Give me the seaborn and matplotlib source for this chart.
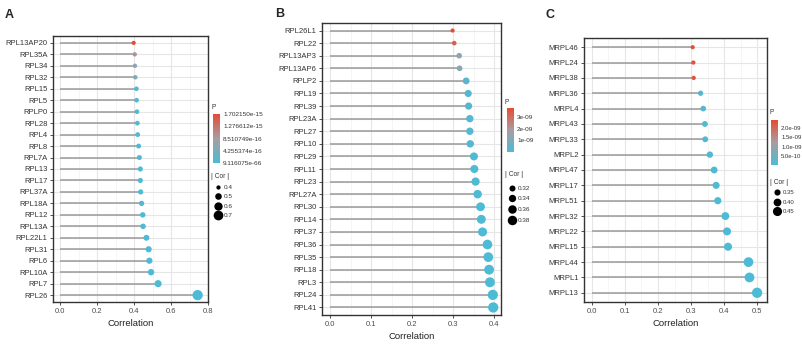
import numpy as np
import pandas as pd
import matplotlib
matplotlib.use("Agg")
import matplotlib.pyplot as plt
import seaborn as sns
from matplotlib.colors import LinearSegmentedColormap, Normalize
from matplotlib.cm import ScalarMappable

sns.set_style("white")
plt.rcParams["font.family"] = ["Liberation Sans", "DejaVu Sans"]

# ---- panel A: RPL genes
genes_a = ["RPL13AP20", "RPL35A", "RPL34", "RPL32", "RPL15", "RPL5", "RPLP0", "RPL28",
           "RPL4", "RPL8", "RPL7A", "RPL13", "RPL17", "RPL37A", "RPL18A", "RPL12",
           "RPL13A", "RPL22L1", "RPL31", "RPL6", "RPL10A", "RPL7", "RPL26"]
cor_a = [0.398, 0.404, 0.405, 0.407, 0.413, 0.414, 0.416, 0.418, 0.420, 0.425, 0.429,
         0.434, 0.434, 0.436, 0.441, 0.447, 0.449, 0.467, 0.479, 0.483, 0.492, 0.530, 0.744]
p_a = [1.702150e-15, 9.5e-16, 6.0e-16, 5.0e-16, 6e-17, 5e-17, 4e-17, 3e-17, 2e-17, 1e-17,
       5e-18, 2e-18, 2e-18, 1e-18, 5e-19, 1e-19, 1e-19, 1e-20, 1e-21, 1e-21, 1e-22, 1e-25,
       9.116075e-66]
pticks_a = [9.116075e-66, 4.255374e-16, 8.510749e-16, 1.276612e-15, 1.702150e-15]
plabels_a = ["9.116075e-66", "4.255374e-16", "8.510749e-16", "1.276612e-15", "1.702150e-15"]
size_breaks_a = [0.4, 0.5, 0.6, 0.7]
size_labels_a = ["0.4", "0.5", "0.6", "0.7"]

# ---- panel B
genes_b = ["RPL26L1", "RPL22", "RPL13AP3", "RPL13AP6", "RPLP2", "RPL19", "RPL39", "RPL23A",
           "RPL27", "RPL10", "RPL29", "RPL11", "RPL23", "RPL27A", "RPL30", "RPL14", "RPL37",
           "RPL36", "RPL35", "RPL18", "RPL3", "RPL24", "RPL41"]
cor_b = [0.299, 0.303, 0.315, 0.316, 0.332, 0.337, 0.338, 0.341, 0.341, 0.342, 0.351, 0.352,
         0.355, 0.360, 0.367, 0.369, 0.372, 0.384, 0.386, 0.388, 0.390, 0.397, 0.398]
p_b = [3.8e-9, 3.3e-9, 1.3e-9, 1.2e-9, 3e-10, 2e-10, 2e-10, 1.5e-10, 1.5e-10, 1.4e-10,
       6e-11, 5e-11, 4e-11, 3e-11, 1e-11, 1e-11, 8e-12, 1e-12, 1e-12, 8e-13, 6e-13, 2e-13, 1e-13]
pticks_b = [1e-9, 2e-9, 3e-9]
plabels_b = ["1e-09", "2e-09", "3e-09"]
size_breaks_b = [0.32, 0.34, 0.36, 0.38]
size_labels_b = ["0.32", "0.34", "0.36", "0.38"]

# ---- panel C: MRPL genes
genes_c = ["MRPL46", "MRPL24", "MRPL38", "MRPL36", "MRPL4", "MRPL43", "MRPL33", "MRPL2",
           "MRPL47", "MRPL17", "MRPL51", "MRPL32", "MRPL22", "MRPL15", "MRPL44", "MRPL1", "MRPL13"]
cor_c = [0.305, 0.307, 0.308, 0.329, 0.337, 0.342, 0.343, 0.357, 0.370, 0.376, 0.381,
         0.404, 0.409, 0.412, 0.474, 0.477, 0.500]
p_c = [2.45e-9, 2.35e-9, 2.3e-9, 2e-10, 1.2e-10, 9e-11, 9e-11, 3e-11, 1e-11, 8e-12, 5e-12,
       5e-13, 4e-13, 3e-13, 1e-15, 1e-15, 1e-16]
pticks_c = [5e-10, 1e-9, 1.5e-9, 2e-9]
plabels_c = ["5.0e-10", "1.0e-09", "1.5e-09", "2.0e-09"]
size_breaks_c = [0.35, 0.40, 0.45]
size_labels_c = ["0.35", "0.40", "0.45"]

cmap = LinearSegmentedColormap.from_list("p", ["#4DBBD5", "#A99DA1", "#E64B35"])
SIZES = (9, 55)
W, H = 803, 347


def fx(px):
    return px / W


def fy(py):
    return 1 - py / H


def panel(fig, box, genes, cor, p, xlim, major, minor, letter, letter_xy,
          cbar_box, p_xy, pticks, plabels, cor_xy, dot_ys, dot_x, breaks, blabels,
          leg_fs=4.6):
    left, right, top, bottom = box
    ax = fig.add_axes([fx(left), fy(bottom), fx(right - left), (bottom - top) / H])
    df = pd.DataFrame({"gene": genes, "cor": cor, "p": p})
    n = len(genes)
    pnorm = (min(p), max(p))
    snorm = (min(cor), max(cor))

    ax.set_axisbelow(True)
    for xv in minor:
        ax.axvline(xv, color="#F2F2F2", lw=0.5, zorder=0)
    for xv in major:
        ax.axvline(xv, color="#E6E6E6", lw=0.8, zorder=0)
    sns.scatterplot(data=df, x="cor", y="gene", hue="p", size="cor", palette=cmap,
                    hue_norm=pnorm, sizes=SIZES, size_norm=snorm, linewidth=0,
                    legend=False, ax=ax, zorder=3)
    for i in range(n):
        ax.axhline(i, color="#E6E6E6", lw=0.8, zorder=0)
    ax.hlines(df["gene"], 0, df["cor"], color="#9A9A9A", lw=1.1, zorder=2)

    ax.set_xlim(*xlim)
    ax.set_ylim(n - 0.4, -0.6)
    ax.set_xticks(major)
    ax.set_xticklabels([f"{v:.1f}" for v in major], fontsize=5.5, color="#4D4D4D")
    ax.tick_params(axis="y", labelsize=5.5, labelcolor="#333333")
    ax.tick_params(axis="both", length=2, width=0.6, color="#333333", pad=2, left=True, bottom=True)
    ax.set_ylabel("")
    ax.set_xlabel("Correlation", fontsize=6.8, color="#222222", labelpad=3)
    for s in ax.spines.values():
        s.set_color("#333333")
        s.set_linewidth(1.0)

    fig.text(fx(letter_xy[0]), fy(letter_xy[1]), letter, fontsize=9, fontweight="bold",
             ha="left", va="center")

    # colour bar legend for P
    cx0, cx1, cy0, cy1 = cbar_box
    cax = fig.add_axes([fx(cx0), fy(cy1), fx(cx1 - cx0), (cy1 - cy0) / H])
    sm = ScalarMappable(norm=Normalize(*pnorm), cmap=cmap)
    cb = fig.colorbar(sm, cax=cax, ticks=pticks)
    cb.ax.set_yticklabels(plabels)
    cb.ax.tick_params(labelsize=leg_fs, length=0, pad=2.2, labelcolor="#333333")
    cb.outline.set_visible(False)
    fig.text(fx(p_xy[0]), fy(p_xy[1]), "P", fontsize=4.8, color="#333333", ha="left", va="center")

    # size legend for |Cor|
    fig.text(fx(cor_xy[0]), fy(cor_xy[1]), "| Cor |", fontsize=4.8, color="#333333",
             ha="left", va="center")
    lax = fig.add_axes([0, 0, 1, 1], facecolor="none")
    lax.set_xlim(0, W)
    lax.set_ylim(H, 0)
    lax.axis("off")
    for b, lab, yy in zip(breaks, blabels, dot_ys):
        s = SIZES[0] + (b - snorm[0]) / (snorm[1] - snorm[0]) * (SIZES[1] - SIZES[0])
        lax.scatter([dot_x], [yy], s=s, color="black", linewidth=0)
        lax.text(dot_x + 5.5, yy, lab, fontsize=leg_fs, color="#333333", va="center", ha="left")
    return ax


fig = plt.figure(figsize=(8.03, 3.47), dpi=100)

panel(fig, (53, 208, 36, 302), genes_a, cor_a, p_a, (-0.038, 0.8),
      [0.0, 0.2, 0.4, 0.6, 0.8], [0.1, 0.3, 0.5, 0.7], "A", (5, 15),
      (213, 220, 114, 163), (212, 107), pticks_a, plabels_a,
      (211, 177), [187, 196, 206, 215], 218, size_breaks_a, size_labels_a)

panel(fig, (322, 501, 23, 315), genes_b, cor_b, p_b, (-0.0195, 0.417),
      [0.0, 0.1, 0.2, 0.3, 0.4], [0.05, 0.15, 0.25, 0.35], "B", (275, 14),
      (507, 514, 108, 152), (505, 103), pticks_b, plabels_b,
      (505, 175), [188, 198, 209, 220], 512, size_breaks_b, size_labels_b)

panel(fig, (584, 767, 38, 302), genes_c, cor_c, p_c, (-0.024, 0.53),
      [0.0, 0.1, 0.2, 0.3, 0.4, 0.5], [0.05, 0.15, 0.25, 0.35, 0.45], "C", (545, 15),
      (771, 778, 120, 165), (770, 112), pticks_c, plabels_c,
      (770, 183), [192, 202, 211], 777, size_breaks_c, size_labels_c, leg_fs=4.3)

fig.savefig("out.png", dpi=100)
